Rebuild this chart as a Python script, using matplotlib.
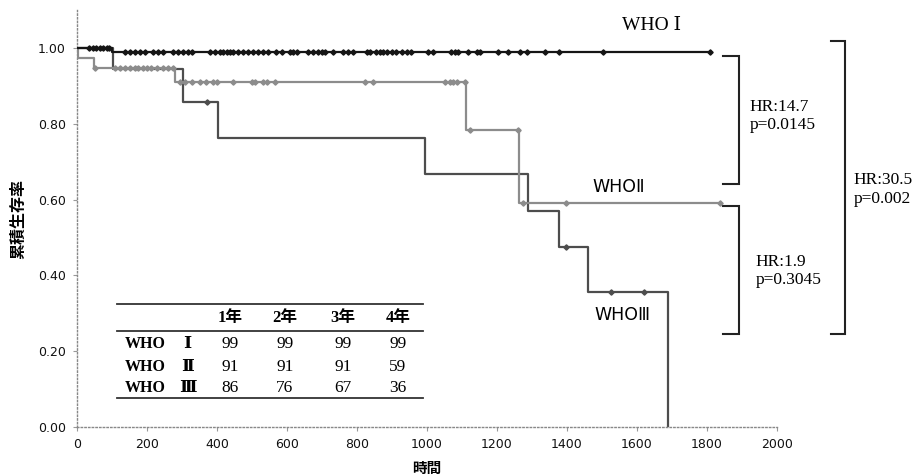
import numpy as np
import matplotlib
matplotlib.use("Agg")
import matplotlib.pyplot as plt

# ---------------- data ----------------
who1_times = [100]
who1_surv = [0.99]
who1_end = 1809
who1_censor = [35, 45, 55, 65, 75, 85, 92, 137, 151, 166, 180, 194, 218, 232, 247, 275, 290,
               304, 318, 328, 380, 394, 409, 418, 428, 437, 447, 461, 475, 490, 504, 518, 532,
               547, 570, 585, 609, 618, 628, 661, 675, 690, 699, 709, 732, 761, 775, 790, 828,
               837, 856, 866, 875, 885, 899, 913, 928, 942, 956, 1004, 1018, 1070, 1080, 1090,
               1118, 1142, 1151, 1204, 1232, 1266, 1285, 1337, 1377, 1504, 1809]

who2_times = [2, 50, 280, 1113, 1263]
who2_surv = [0.973, 0.946, 0.911, 0.783, 0.590]
who2_end = 1837
who2_censor = [52, 109, 123, 137, 151, 166, 175, 190, 199, 213, 228, 247, 261, 275, 294, 309,
               328, 351, 370, 390, 399, 447, 499, 509, 532, 542, 566, 823, 847, 1051, 1066,
               1075, 1085, 1109, 1123, 1260, 1274, 1399, 1837]

who3_times = [103, 303, 404, 996, 1289, 1377, 1461, 1689]
who3_surv = [0.944, 0.857, 0.762, 0.667, 0.571, 0.476, 0.357, 0.0]
who3_end = 1689
who3_censor = [371, 1397, 1527, 1620]

table_cols = ["1年", "2年", "3年", "4年"]
table_rows = ["WHO", "WHO", "WHO"]
table_numerals = ["Ⅰ", "Ⅱ", "Ⅲ"]
table_vals = [[99, 99, 99, 99], [91, 91, 91, 59], [86, 76, 67, 36]]

curve_labels = ["WHO Ⅰ", "WHOⅡ", "WHOⅢ"]
hr_texts = ["HR:14.7\np=0.0145", "HR:1.9\np=0.3045", "HR:30.5\np=0.002"]

# ---------------- figure ----------------
fig = plt.figure(figsize=(9.16, 4.74), dpi=100)
ax = fig.add_axes([0.084, 0.099, 0.764, 0.88])
ax.set_xlim(0, 2000)
ax.set_ylim(0, 1.1)

SERIF = ['Liberation Serif', 'DejaVu Serif', 'Noto Sans CJK JP']
SANS = ['DejaVu Sans', 'Noto Sans CJK JP']
CJK = ['Noto Sans CJK JP', 'DejaVu Sans']


def km(ax, times, surv, end, censor, color, z):
    t = np.r_[0, times, end]
    s = np.r_[1.0, surv, surv[-1]]
    ax.step(t, s, where='post', color=color, lw=1.6, zorder=z)
    times = np.asarray(times)
    sv = np.r_[1.0, surv]
    idx = np.searchsorted(times, censor, side='right')
    cy = sv[idx]
    ax.plot(censor, cy, ls='none', marker='D', ms=2.7, color=color, zorder=z)


km(ax, who3_times, who3_surv, who3_end, who3_censor, '#4d4d4d', 2)
km(ax, who2_times, who2_surv, who2_end, who2_censor, '#8c8c8c', 3)
km(ax, who1_times, who1_surv, who1_end, who1_censor, '#151515', 4)

# spines
for s in ['top', 'right']:
    ax.spines[s].set_visible(False)
for s in ['left', 'bottom']:
    ax.spines[s].set_linestyle(':')
    ax.spines[s].set_color('#888888')
    ax.spines[s].set_linewidth(1.0)

ax.set_xticks(np.arange(0, 2001, 200))
ax.set_yticks(np.arange(0, 1.01, 0.2))
ax.set_yticklabels([f"{v:.2f}" for v in np.arange(0, 1.01, 0.2)])
ax.tick_params(direction='out', length=3, width=0.8, color='#999999',
               labelsize=9, labelcolor='#111111', pad=5)
for lab in ax.get_xticklabels() + ax.get_yticklabels():
    lab.set_family(SANS)

ax.set_ylabel("累積生存率", family=CJK, fontsize=11.5, fontweight='bold', labelpad=8)
ax.set_xlabel("時間", family=CJK, fontsize=10.5, fontweight='bold', labelpad=6)

# curve labels
ax.text(1643, 1.058, curve_labels[0], family=SERIF, fontsize=14, ha='center', va='center')
ax.text(1549, 0.632, curve_labels[1], family=SANS, fontsize=12.5, ha='center', va='center')
ax.text(1560, 0.295, curve_labels[2], family=SANS, fontsize=12.5, ha='center', va='center')

# brackets
def bracket(x0, x1, ytop, ybot):
    ax.plot([x0, x1, x1, x0], [ytop, ytop, ybot, ybot], color='#222222', lw=1.5,
            clip_on=False, solid_joinstyle='miter')

bracket(1846, 1891, 0.979, 0.642)
bracket(1846, 1891, 0.582, 0.245)
bracket(2154, 2194, 1.018, 0.245)

ax.text(1923, 0.821, hr_texts[0], family=SERIF, fontsize=12.5, ha='left', va='center',
        linespacing=1.2, clip_on=False)
ax.text(1940, 0.411, hr_texts[1], family=SERIF, fontsize=12.5, ha='left', va='center',
        linespacing=1.2, clip_on=False)
ax.text(2220, 0.626, hr_texts[2], family=SERIF, fontsize=12.5, ha='left', va='center',
        linespacing=1.2, clip_on=False)

# table
tx0, tx1 = 114, 989
for yl in [0.324, 0.253, 0.076]:
    ax.plot([tx0, tx1], [yl, yl], color='#333333', lw=1.3)
col_x = [437, 594, 760, 917]
row_y = [0.218, 0.158, 0.103]
for cx, c in zip(col_x, table_cols):
    ax.text(cx, 0.287, c, family=SERIF, fontsize=12, fontweight='bold', ha='center', va='center')
for ry, rl, rn, vals in zip(row_y, table_rows, table_numerals, table_vals):
    ax.text(137, ry, rl, family=SERIF, fontsize=11.5, fontweight='bold', ha='left', va='center')
    ax.text(316, ry, rn, family=SERIF, fontsize=12.5, fontweight='bold', ha='center', va='center')
    for cx, v in zip(col_x, vals):
        ax.text(cx, ry, str(v), family=SERIF, fontsize=12.5, ha='center', va='center')

fig.savefig("out.png", dpi=100)
